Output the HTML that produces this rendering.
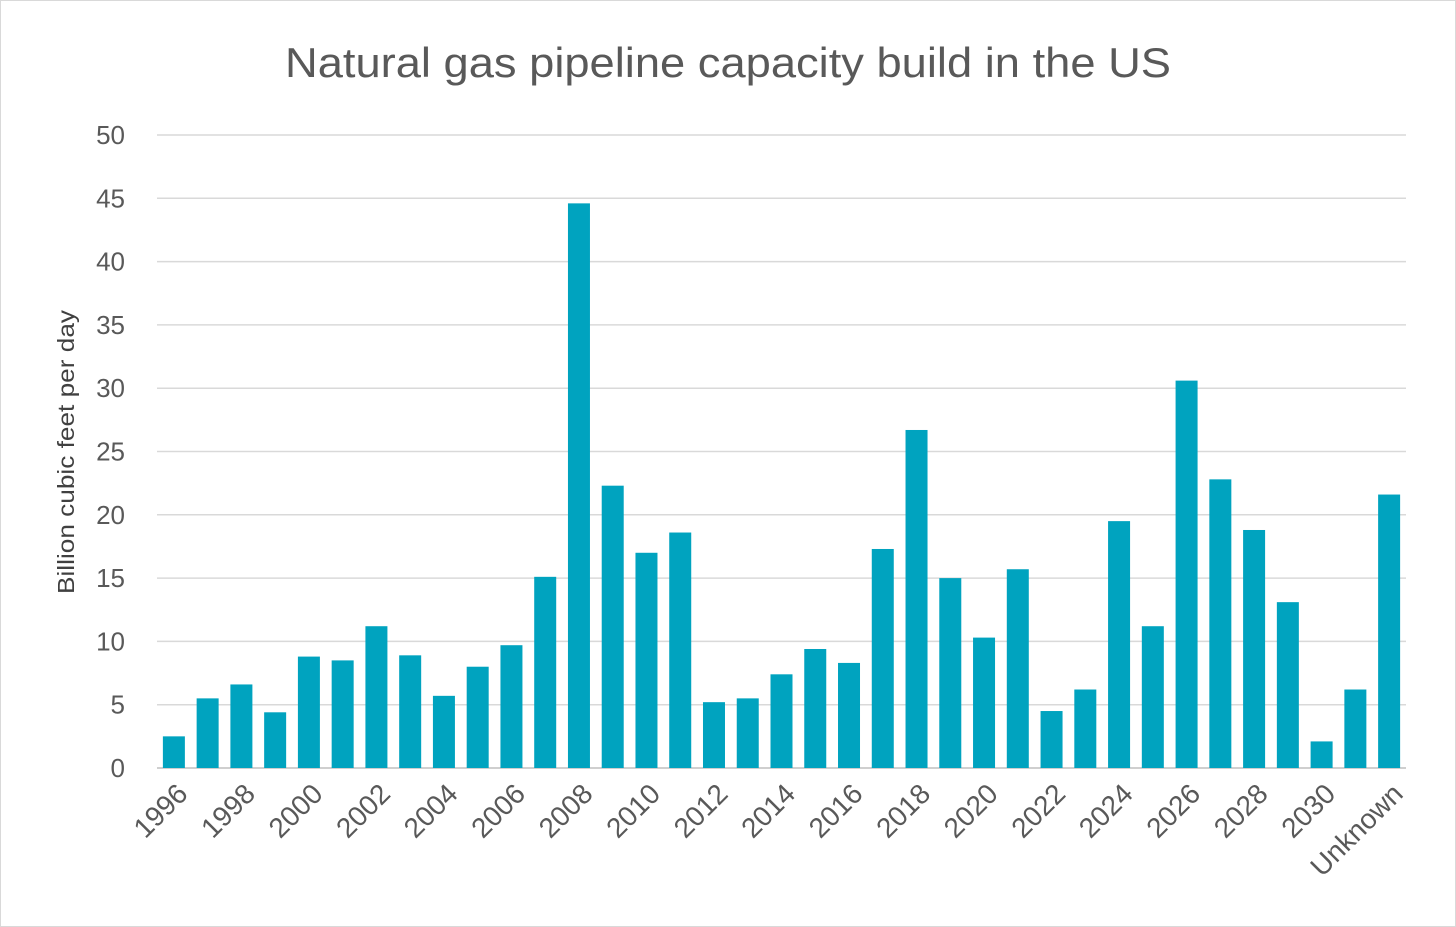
<!DOCTYPE html>
<html><head><meta charset="utf-8"><style>
html,body{margin:0;padding:0;background:#fff;}
svg{display:block;font-family:"Liberation Sans Narrow","Liberation Sans",sans-serif;}
</style></head><body>
<svg id="chart" width="1456" height="927">
<rect x="0.5" y="0.5" width="1455" height="926" fill="#fff" stroke="#d9d9d9"/>
<text x="728" y="77" text-anchor="middle" font-size="42" fill="#595959" textLength="886" lengthAdjust="spacingAndGlyphs">Natural gas pipeline capacity build in the US</text>
<text transform="translate(74,452) rotate(-90)" text-anchor="middle" font-size="23" fill="#404040" textLength="284" lengthAdjust="spacingAndGlyphs">Billion cubic feet per day</text>
<g id="grid"></g><g id="bars"></g><g id="xlabels"></g>
</svg>
<script>
const categories = ["1996","1997","1998","1999","2000","2001","2002","2003","2004","2005","2006","2007","2008","2009","2010","2011","2012","2013","2014","2015","2016","2017","2018","2019","2020","2021","2022","2023","2024","2025","2026","2027","2028","2029","2030","2031","Unknown"];
const values = [2.5,5.5,6.6,4.4,8.8,8.5,11.2,8.9,5.7,8.0,9.7,15.1,44.6,22.3,17.0,18.6,5.2,5.5,7.4,9.4,8.3,17.3,26.7,15.0,10.3,15.7,4.5,6.2,19.5,11.2,30.6,22.8,18.8,13.1,2.1,6.2,21.6];
const yTicks = [0,5,10,15,20,25,30,35,40,45,50];
const shownLabels = ["1996","1998","2000","2002","2004","2006","2008","2010","2012","2014","2016","2018","2020","2022","2024","2026","2028","2030","Unknown"];
const NS="http://www.w3.org/2000/svg";
const x0=157,x1=1406,yBase=768,yTop=135,yMax=50;
const step=(x1-x0)/categories.length;
const xC=i=>x0+step*(i+0.5);
const yS=v=>yBase-(v/yMax)*(yBase-yTop);
const grid=document.getElementById('grid'),bars=document.getElementById('bars'),xl=document.getElementById('xlabels');
yTicks.forEach(t=>{
  const l=document.createElementNS(NS,'line');
  l.setAttribute('x1',x0);l.setAttribute('x2',x1);l.setAttribute('y1',yS(t));l.setAttribute('y2',yS(t));
  l.setAttribute('stroke',t===0?'#bfbfbf':'#d9d9d9');l.setAttribute('stroke-width','1.5');
  
  
  grid.appendChild(l);
  const tx=document.createElementNS(NS,'text');
  tx.setAttribute('x',125);tx.setAttribute('y',yS(t)+9);tx.setAttribute('text-anchor','end');
  tx.setAttribute('font-size','26');tx.setAttribute('fill','#595959');tx.textContent=t;
  
  
  grid.appendChild(tx);
});
categories.forEach((c,i)=>{
  const r=document.createElementNS(NS,'rect');
  const bw=22;
  r.setAttribute('x',xC(i)-bw/2);r.setAttribute('width',bw);
  r.setAttribute('y',yS(values[i]));r.setAttribute('height',yBase-yS(values[i]));
  r.setAttribute('fill','#00a3bf');
  
  
  bars.appendChild(r);
  if(shownLabels.includes(c)){
    const tx=document.createElementNS(NS,'text');
    const cx=xC(i)+2,cy=782;
    tx.setAttribute('transform','translate('+cx+','+cy+') rotate(-45)');
    tx.setAttribute('text-anchor','end');tx.setAttribute('font-size','28');
    tx.setAttribute('fill','#595959');tx.setAttribute('dy','19');tx.textContent=c;
    
    
    xl.appendChild(tx);
  }
});
</script>
</body></html>
